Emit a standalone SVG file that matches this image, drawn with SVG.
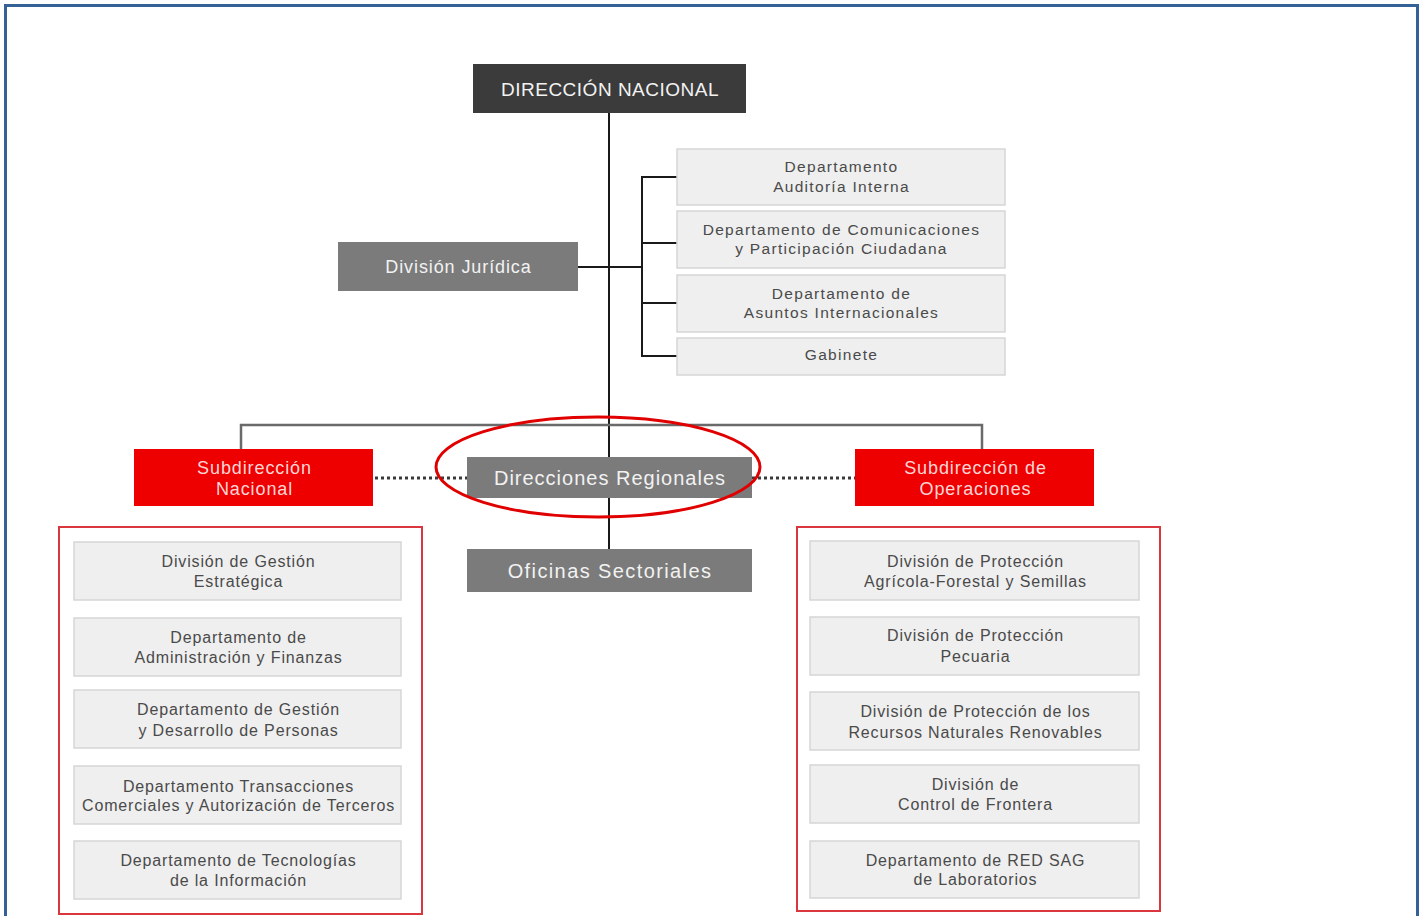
<svg xmlns="http://www.w3.org/2000/svg" width="1419" height="916" viewBox="0 0 1419 916">
<style>
text{font-family:"Liberation Sans",Arial,sans-serif;text-anchor:middle;}
.lb{fill:#efefef;stroke:#d6d6d6;stroke-width:1.5;}
.lt{fill:#4a4a4a;font-size:16px;letter-spacing:0.85px;}
.st{fill:#4a4a4a;font-size:15.5px;letter-spacing:1.3px;}
.gb{fill:#7b7b7b;}
.gt{fill:#f2f2f2;font-size:20px;letter-spacing:1px;}
.rb{fill:#ee0000;}
.rt{fill:#ffd6d6;font-size:18px;letter-spacing:0.9px;}
.frame{fill:none;stroke:#d9363e;stroke-width:2;}
.ln{stroke:#1a1a1a;stroke-width:2;fill:none;}
.gl{stroke:#6a6a6a;stroke-width:2.5;fill:none;}
.dl{stroke:#3a3a3a;stroke-width:3;stroke-dasharray:3 3;fill:none;}
</style>
<rect x="0" y="0" width="1419" height="916" fill="#ffffff"/>
<path d="M5.5 916 V5.5 H1417.5 V916" fill="none" stroke="#356296" stroke-width="3"/>

<g id="connectors">
<line class="ln" x1="609" y1="113" x2="609" y2="549"/>
<line class="ln" x1="578" y1="267" x2="642" y2="267"/>
<polyline class="ln" points="677,177 642,177 642,356 677,356"/>
<line class="ln" x1="642" y1="243" x2="677" y2="243"/>
<line class="ln" x1="642" y1="303" x2="677" y2="303"/>
<polyline class="gl" points="241,449 241,425 982,425 982,449"/>
<line class="dl" x1="375" y1="478" x2="467" y2="478"/>
<line class="dl" x1="752" y1="478" x2="855" y2="478"/>
</g>

<g id="direccion-nacional">
<rect x="473" y="64" width="273" height="49" fill="#3b3b3b"/>
<text x="610" y="96" fill="#f2f2f2" font-size="19px" letter-spacing="0.5px">DIRECCIÓN NACIONAL</text>
</g>

<g id="division-juridica">
<rect class="gb" x="338" y="242" width="240" height="49"/>
<text class="gt" x="458.5" y="273" style="font-size:18px;letter-spacing:0.9px">División Jurídica</text>
</g>

<g id="auditoria">
<rect class="lb" x="677" y="149" width="328" height="56"/>
<text class="st" x="841.5" y="172">Departamento</text>
<text class="st" x="841.5" y="192">Auditoría Interna</text>
</g>
<g id="comunicaciones">
<rect class="lb" x="677" y="211" width="328" height="57"/>
<text class="st" x="841.5" y="235">Departamento de Comunicaciones</text>
<text class="st" x="841.5" y="254">y Participación Ciudadana</text>
</g>
<g id="asuntos-internacionales">
<rect class="lb" x="677" y="275" width="328" height="57"/>
<text class="st" x="841.5" y="299">Departamento de</text>
<text class="st" x="841.5" y="318">Asuntos Internacionales</text>
</g>
<g id="gabinete">
<rect class="lb" x="677" y="338" width="328" height="37"/>
<text class="st" x="841.5" y="360">Gabinete</text>
</g>

<g id="subdireccion-nacional">
<rect class="rb" x="134" y="449" width="239" height="57"/>
<text class="rt" x="254.5" y="474">Subdirección</text>
<text class="rt" x="254.5" y="495">Nacional</text>
</g>
<g id="subdireccion-operaciones">
<rect class="rb" x="855" y="449" width="239" height="57"/>
<text class="rt" x="975.5" y="474">Subdirección de</text>
<text class="rt" x="975.5" y="495">Operaciones</text>
</g>

<g id="direcciones-regionales">
<rect class="gb" x="467" y="457" width="285" height="41"/>
<text class="gt" x="610" y="485">Direcciones Regionales</text>
</g>
<ellipse cx="598" cy="467" rx="162" ry="50" fill="none" stroke="#e10000" stroke-width="3"/>

<g id="oficinas-sectoriales">
<rect class="gb" x="467" y="549" width="285" height="43"/>
<text class="gt" x="610" y="578" style="letter-spacing:1.4px">Oficinas Sectoriales</text>
</g>

<g id="grupo-subdireccion-nacional">
<rect class="frame" x="59" y="527" width="363" height="387"/>
<g id="gestion-estrategica">
<rect class="lb" x="74" y="542" width="327" height="58"/>
<text class="lt" x="238.5" y="567">División de Gestión</text>
<text class="lt" x="238.5" y="587">Estratégica</text>
</g>
<g id="administracion-finanzas">
<rect class="lb" x="74" y="618" width="327" height="58"/>
<text class="lt" x="238.5" y="643">Departamento de</text>
<text class="lt" x="238.5" y="663">Administración y Finanzas</text>
</g>
<g id="gestion-personas">
<rect class="lb" x="74" y="690" width="327" height="58"/>
<text class="lt" x="238.5" y="715">Departamento de Gestión</text>
<text class="lt" x="238.5" y="736">y Desarrollo de Personas</text>
</g>
<g id="transacciones">
<rect class="lb" x="74" y="766" width="327" height="58"/>
<text class="lt" x="238.5" y="792">Departamento Transacciones</text>
<text class="lt" x="238.5" y="811">Comerciales y Autorización de Terceros</text>
</g>
<g id="tecnologias">
<rect class="lb" x="74" y="841" width="327" height="58"/>
<text class="lt" x="238.5" y="866">Departamento de Tecnologías</text>
<text class="lt" x="238.5" y="886">de la Información</text>
</g>
</g>

<g id="grupo-subdireccion-operaciones">
<rect class="frame" x="797" y="527" width="363" height="384"/>
<g id="agricola-forestal">
<rect class="lb" x="810" y="541" width="329" height="59"/>
<text class="lt" x="975.5" y="567">División de Protección</text>
<text class="lt" x="975.5" y="587">Agrícola-Forestal y Semillas</text>
</g>
<g id="pecuaria">
<rect class="lb" x="810" y="617" width="329" height="58"/>
<text class="lt" x="975.5" y="641">División de Protección</text>
<text class="lt" x="975.5" y="662">Pecuaria</text>
</g>
<g id="recursos-naturales">
<rect class="lb" x="810" y="692" width="329" height="58"/>
<text class="lt" x="975.5" y="717">División de Protección de los</text>
<text class="lt" x="975.5" y="738">Recursos Naturales Renovables</text>
</g>
<g id="control-frontera">
<rect class="lb" x="810" y="765" width="329" height="58"/>
<text class="lt" x="975.5" y="790">División de</text>
<text class="lt" x="975.5" y="810">Control de Frontera</text>
</g>
<g id="red-laboratorios">
<rect class="lb" x="810" y="841" width="329" height="57"/>
<text class="lt" x="975.5" y="866">Departamento de RED SAG</text>
<text class="lt" x="975.5" y="885">de Laboratorios</text>
</g>
</g>
</svg>
